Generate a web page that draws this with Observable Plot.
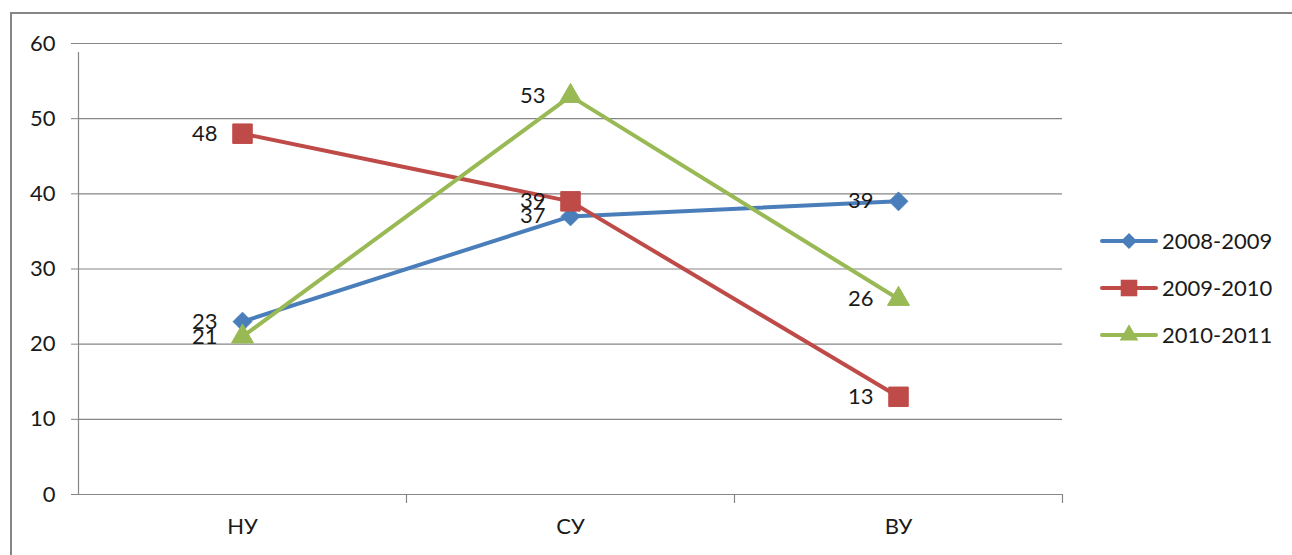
<!DOCTYPE html>
<html>
<head>
<meta charset="utf-8">
<script src="https://cdn.jsdelivr.net/npm/d3@7"></script>
<script src="https://cdn.jsdelivr.net/npm/@observablehq/plot@0.6"></script>
<style>
  html, body { margin: 0; padding: 0; background: #fff; overflow: hidden; width: 1292px; height: 555px; }
  #wrap { position: relative; width: 1292px; height: 555px; }
  #border { position: absolute; left: 10px; top: 12px; width: 1400px; height: 700px;
            border-left: 2px solid #868686; border-top: 2px solid #868686; box-sizing: border-box; }
  #chart { position: absolute; left: 0; top: 0; }
  #legend { position: absolute; left: 1100px; top: 217px; font-family: Lato, sans-serif;
            font-size: 22px; color: #1a1a1a; }
  .row { display: flex; align-items: center; height: 47px; }
  .row svg { display: block; margin-right: 4px; }
</style>
</head>
<body>
<div id="wrap">
  <div id="border"></div>
  <div id="chart"></div>
  <div id="legend"></div>
</div>
<script>
const categories = ["НУ", "СУ", "ВУ"];
const seriesNames = ["2008-2009", "2009-2010", "2010-2011"];
const values2008 = [23, 37, 39];
const values2009 = [48, 39, 13];
const values2010 = [21, 53, 26];
const colors = ["#4A7EBB", "#BE4B48", "#98B954"];
const symbols = ["diamond2", "square", "triangle2"];
const symbolR = [8.5, 11, 10.5];
const yTicks = [0, 10, 20, 30, 40, 50, 60];

const seriesValues = [values2008, values2009, values2010];
const data = [];
seriesNames.forEach((s, si) => categories.forEach((c, ci) => data.push({series: s, si, cat: c, value: seriesValues[si][ci]})));

const W = 1292, H = 555, mL = 78, mR = 230, mT = 43, mB = 61;
const halfStep = (W - mL - mR) / categories.length / 2;
const gray = "#868686";
const FS = 22;

const marks = [
  Plot.gridY(yTicks, {stroke: gray, strokeOpacity: 1, strokeWidth: 1.2}),
  Plot.ruleX([categories[0]], {dx: -halfStep, y1: 0, y2: 60, insetBottom: -9, stroke: gray, strokeWidth: 1.2}),
  Plot.ruleX(categories, {dx: halfStep, y1: 0, y2: 0, insetBottom: -9, stroke: gray, strokeWidth: 1.2}),
  Plot.axisY({ticks: yTicks, tickSize: 7, tickPadding: 16, stroke: gray, label: null, fontSize: FS}),
  Plot.axisX({tickSize: 0, tickPadding: 24, label: null, fontSize: FS})
];
seriesNames.forEach((s, si) => {
  const d = data.filter(e => e.si === si);
  marks.push(Plot.line(d, {x: "cat", y: "value", stroke: colors[si], strokeWidth: 4}));
  marks.push(Plot.dot(d, {x: "cat", y: "value", symbol: symbols[si], r: symbolR[si], fill: colors[si], stroke: colors[si], strokeWidth: 1}));
});
marks.push(Plot.text(data, {x: "cat", y: "value", text: d => String(d.value), textAnchor: "end", dx: -25, fontSize: FS, fill: "#1a1a1a"}));

const chart = Plot.plot({
  width: W, height: H,
  marginLeft: mL, marginRight: mR, marginTop: mT, marginBottom: mB,
  style: {fontFamily: "Lato, sans-serif", fontSize: FS + "px", color: "#1a1a1a", background: "transparent", overflow: "visible"},
  x: {type: "point", domain: categories, padding: 0.5, label: null},
  y: {domain: [0, 60], label: null},
  marks
});
document.getElementById("chart").appendChild(chart);

// legend
const legend = d3.select("#legend");
seriesNames.forEach((s, si) => {
  const row = legend.append("div").attr("class", "row");
  const svg = row.append("svg").attr("width", 58).attr("height", 26);
  svg.append("line").attr("x1", 2).attr("x2", 56).attr("y1", 13).attr("y2", 13)
    .attr("stroke", colors[si]).attr("stroke-width", 4).attr("stroke-linecap", "round");
  const sym = [d3.symbolDiamond2, d3.symbolSquare, d3.symbolTriangle2][si];
  const r = symbolR[si] * 0.85;
  svg.append("path").attr("transform", "translate(29,13)")
    .attr("d", d3.symbol(sym, r * r * Math.PI)())
    .attr("fill", colors[si]);
  row.append("span").text(s);
});
</script>
</body>
</html>
